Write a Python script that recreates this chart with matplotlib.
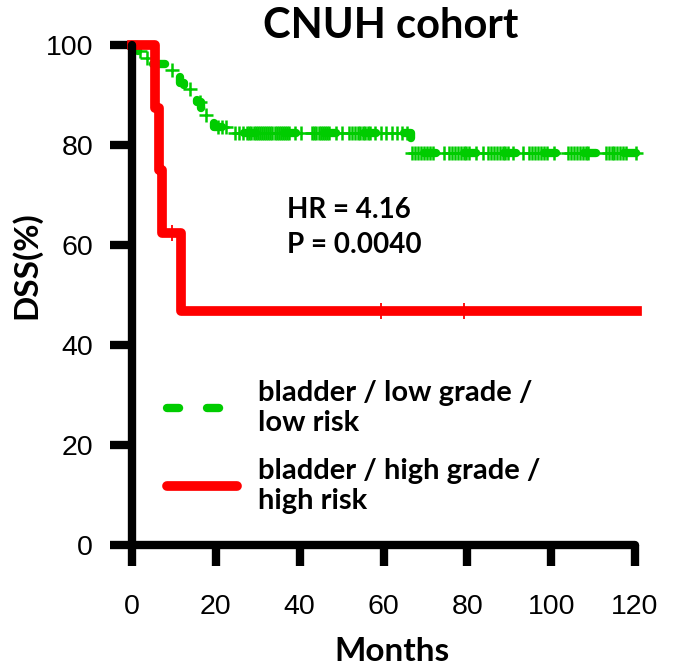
import numpy as np
import matplotlib
matplotlib.use('Agg')
import matplotlib.pyplot as plt
from matplotlib.lines import Line2D

# Kaplan-Meier steps (months, DSS %)
low_times = [0, 1.5, 3.0, 4.5, 8.5, 10.5, 11.5, 12.5, 14.0, 15.5, 16.5, 17.2, 18.0, 19.5, 23.5, 66.5]
low_surv = [100, 98.8, 97.5, 96.3, 95.0, 93.7, 92.4, 91.2, 89.9, 88.6, 87.4, 86.1, 84.9, 83.6, 82.4, 78.5]
low_censor = [2.0, 3.6, 9.6, 13.8, 16.2, 17.7, 20.5, 21.5, 22.5, 24.5, 25.5, 26.5,
              27.5, 28, 28.5, 29, 29.5, 30, 30.5, 31, 31.5, 32, 32.5, 33, 33.5, 34, 34.5,
              35, 35.5, 36, 36.5, 37, 37.5, 39, 40.2, 43, 43.5, 44, 44.5, 45, 45.5, 46,
              46.5, 47, 48.6, 50.2, 51.7, 52.6, 53.2, 53.8, 54.4, 55, 55.6, 56.2, 56.8,
              58, 59.3, 60.5, 62, 63.3, 64.5, 65.5,
              66.8, 67.5, 68.2, 68.9, 69.6, 70.3, 71, 71.7, 74.4, 75.6, 76.3, 77, 77.7,
              78.4, 79.1, 79.8, 80.5, 82, 83.7, 85, 85.6, 86.3, 87, 87.7, 88.4, 89.1,
              89.7, 91, 93.3, 94.7, 95.4, 96.1, 96.8, 97.5, 98.2, 98.9, 100.7, 104,
              104.7, 105.4, 106.1, 106.8, 107.5, 108.2, 108.8, 113, 113.7, 114.4, 115.1,
              115.8, 116.5, 117.2, 117.9, 120.3]

high_times = [0, 5.6, 6.5, 7.2, 11.7]
high_surv = [100, 87.5, 75.0, 62.5, 46.9]
high_censor = [9.5, 59.3, 79.2]

follow_up_end = 120.5

x_ticks = [0, 20, 40, 60, 80, 100, 120]
y_ticks = [0, 20, 40, 60, 80, 100]

GREEN = '#00cc00'
RED = '#ff0000'
TEXT_FONT = ['Lato', 'DejaVu Sans']


def step_value(times, surv, t):
    idx = np.searchsorted(times, t, side='right') - 1
    return np.asarray(surv)[idx]


fig = plt.figure(figsize=(6.73, 6.71), dpi=100)
ax = fig.add_axes([132 / 673, 126 / 671, 503 / 673, 500 / 671])

# low grade curve: dashed step line with censor ticks
lt = low_times + [follow_up_end]
ls = low_surv + [low_surv[-1]]
ax.step(lt, ls, where='post', color=GREEN, lw=6, linestyle=(0, (1.45, 3.35)),
        dash_capstyle='round', clip_on=False, zorder=2.0)
ax.plot(low_censor, step_value(low_times, low_surv, low_censor), '+', color=GREEN,
        ms=10, mew=1.8, clip_on=False, zorder=2.0)

# high grade curve
ht = high_times + [follow_up_end]
hs = high_surv + [high_surv[-1]]
ax.step(ht, hs, where='post', color=RED, lw=7, solid_joinstyle='round',
        clip_on=False, zorder=2.2)
ax.plot(high_censor, step_value(high_times, high_surv, high_censor), '+', color=RED,
        ms=12, mew=1.3, clip_on=False, zorder=2.2)

ax.set_xlim(0, 120)
ax.set_ylim(0, 100)
ax.set_xticks(x_ticks)
ax.set_yticks(y_ticks)
for s in ['top', 'right']:
    ax.spines[s].set_visible(False)
for s in ['left', 'bottom']:
    ax.spines[s].set_linewidth(6)
    ax.spines[s].set_capstyle('round')
    ax.spines[s].set_zorder(3)
ax.tick_params(axis='y', direction='out', length=16, width=6, pad=12,
               labelsize=20.5, labelfontfamily='Liberation Sans')
ax.tick_params(axis='x', direction='out', length=15, width=6, pad=20,
               labelsize=20.5, labelfontfamily='Liberation Sans')

ax.set_ylabel('DSS(%)', fontsize=24, fontweight='bold', family=TEXT_FONT)
ax.yaxis.set_label_coords(-0.18, 0.56)
ax.set_xlabel('Months', fontsize=24, fontweight='bold', family=TEXT_FONT)
ax.xaxis.set_label_coords(0.517, -0.184)

fig.text(391 / 673, 1 - 26 / 671, 'CNUH cohort', ha='center', va='center',
         fontsize=30, fontweight='bold', family=TEXT_FONT)

ax.text(37, 63.5, 'HR = 4.16\nP = 0.0040', ha='left', va='center', fontsize=20,
        fontweight='bold', family=TEXT_FONT, linespacing=1.45)

handles = [Line2D([], [], color=GREEN, lw=6, linestyle=(0, (1.45, 3.35)),
                  dash_capstyle='round'),
           Line2D([], [], color=RED, lw=7, solid_capstyle='round')]
labels = ['bladder / low grade /\nlow risk', 'bladder / high grade /\nhigh risk']
leg = ax.legend(handles, labels, loc='upper left', bbox_to_anchor=(0.07, 0.33),
                frameon=False, borderpad=0, borderaxespad=0, handlelength=2.4,
                handletextpad=0.7, labelspacing=0.75,
                prop={'family': TEXT_FONT, 'weight': 'bold', 'size': 21})
for txt in leg.get_texts():
    txt.set_linespacing(1.2)

fig.savefig('out.png', dpi=100)
